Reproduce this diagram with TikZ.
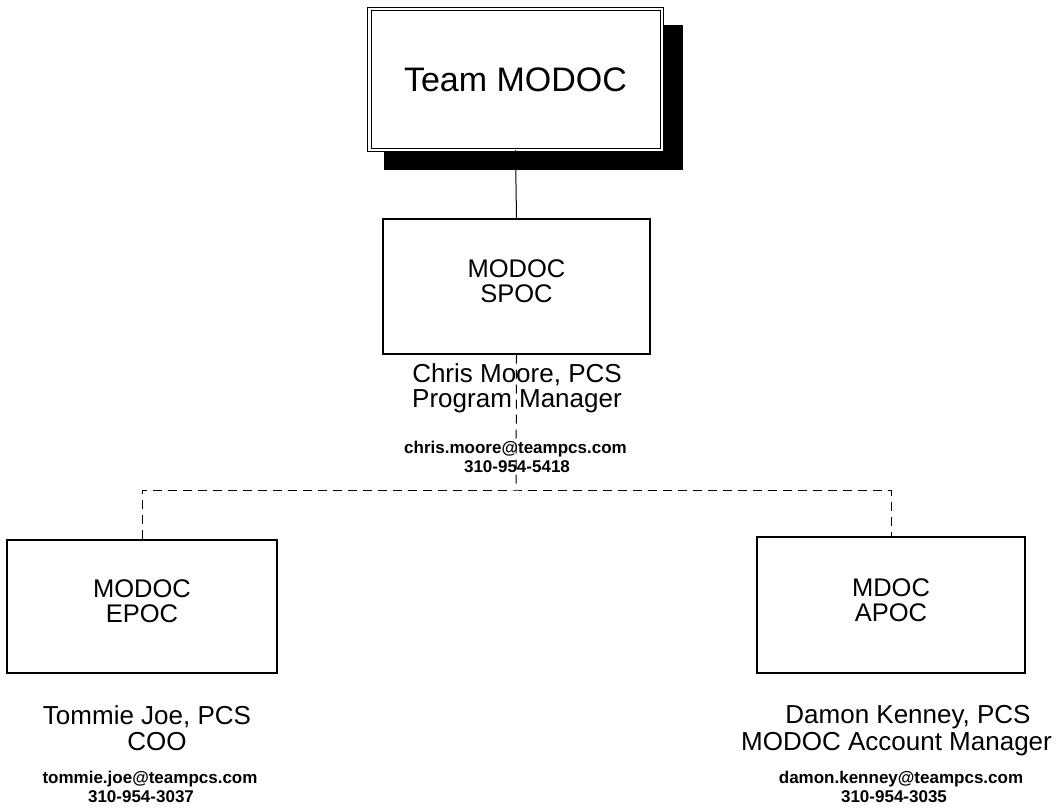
\documentclass[tikz,border=0pt]{standalone}
\usepackage{fontspec}
\setmainfont{Liberation Sans}
\newcommand\lowpad{\rule[-10pt]{0pt}{10pt}}
\begin{document}
\begin{tikzpicture}[x=1pt,y=-1pt,
  box/.style={draw, line width=1.3pt, fill=white, align=center, inner sep=0pt,
    font=\fontsize{25.5}{25}\selectfont},
  person/.style={font=\fontsize{26}{26}\selectfont, anchor=base, inner sep=0pt},
  mail/.style={font=\bfseries\fontsize{17}{19}\selectfont, anchor=base, inner sep=0pt},
  solidlink/.style={line width=1pt},
  dashlink/.style={line width=1pt, dash pattern=on 9pt off 6pt}
]
\useasboundingbox (0,0) rectangle (1056,808);
\fill[white] (0,0) rectangle (1056,808);
\clip (0,0) rectangle (1056,808);

% title box with shadow
\fill[black] (384,25) rectangle (683,170);
\node[draw=black, double=white, double distance=2.5pt, line width=1pt, fill=white,
  minimum width=292.5pt, minimum height=140.5pt, inner sep=0pt,
  font=\fontsize{34}{34}\selectfont] (team) at (515.5,79.5) {Team MODOC};

% boxes
\node[box, minimum width=267pt, minimum height=135pt] (spoc) at (516.5,286.5) {MODOC\\SPOC\lowpad};
\node[box, minimum width=270pt, minimum height=133pt] (epoc) at (142,606.5) {MODOC\\EPOC\lowpad};
\node[box, minimum width=268pt, minimum height=136pt] (apoc) at (891,605) {MDOC\\APOC\lowpad};

% connectors
\coordinate (j) at (516,490);
\draw[solidlink] (team.south) -- (spoc.north);
\draw[dashlink] (spoc.south) -- (j);
\draw[dashlink] (epoc.north) |- (j) -| (apoc.north);

% Chris Moore
\node[person] (cmname) at (517,382) {Chris Moore, PCS};
\node[person] (cmrole) at (517,407) {Program Manager};
\node[mail] (cmmail) at (515.5,453) {chris.moore@teampcs.com};
\node[mail] (cmphone) at (517,472) {310-954-5418};

% Tommie Joe
\node[person] (tjname) at (147,724) {Tommie Joe, PCS};
\node[person] (tjrole) at (157,750) {COO};
\node[mail] (tjmail) at (150,783) {tommie.joe@teampcs.com};
\node[mail] (tjphone) at (141,802) {310-954-3037};

% Damon Kenney
\node[person] (dkname) at (908,723) {Damon Kenney, PCS};
\node[person, anchor=base west] (dkrole) at (741,750) {MODOC Account Manager};
\node[mail] (dkmail) at (901,783) {damon.kenney@teampcs.com};
\node[mail] (dkphone) at (894,802) {310-954-3035};
\end{tikzpicture}
\end{document}
